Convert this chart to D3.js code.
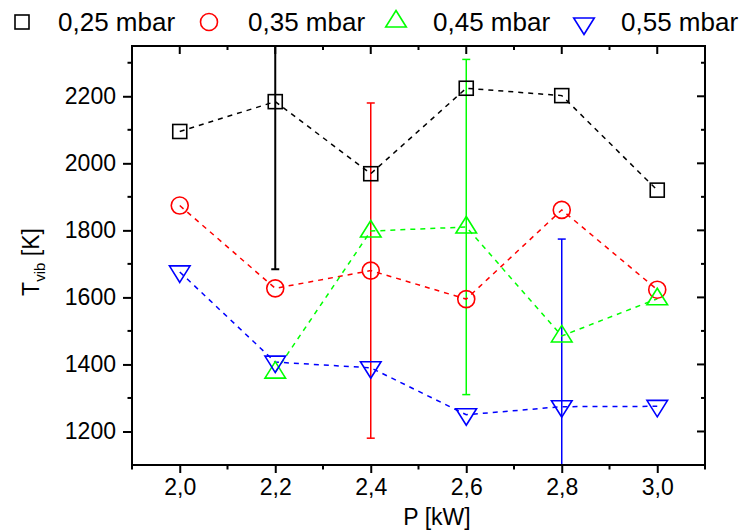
<!DOCTYPE html>
<html><head><meta charset="utf-8">
<script src="https://cdn.jsdelivr.net/npm/d3@7"></script>
<style>
body{margin:0;background:#fff;}
text{font-family:"Liberation Sans",Arial,Helvetica,sans-serif;fill:#000;}
</style></head>
<body><svg id="c" width="744" height="532"></svg>
<script>
const pressures = ["0,25 mbar","0,35 mbar","0,45 mbar","0,55 mbar"];
const power = [2.0, 2.2, 2.4, 2.6, 2.8, 3.0];
const t025 = [2095, 2184, 1969, 2224, 2202, 1920];
const t035 = [1874, 1627, 1680, 1595, 1861, 1623];
const t045 = [null, 1377, 1798, 1810, 1485, 1596];
const t055 = [1676, 1407, 1390, 1250, 1274, 1275];
const e025 = [0, 500, 0, 0, 0, 0];
const e035 = [0, 0, 500, 0, 0, 0];
const e045 = [0, 0, 0, 500, 0, 0];
const e055 = [0, 0, 0, 0, 500, 0];
const xTicks = [2.0, 2.2, 2.4, 2.6, 2.8, 3.0];
const xMinor = [1.9, 2.1, 2.3, 2.5, 2.7, 2.9, 3.1];
const yTicks = [1200, 1400, 1600, 1800, 2000, 2200];
const yMinor = [1300, 1500, 1700, 1900, 2100, 2300];

const colors = ["#000000", "#ff0000", "#00ff00", "#0000ff"];
const shapes = ["square", "circle", "up", "down"];
const series = [t025, t035, t045, t055].map((v, i) => ({
  name: pressures[i], color: colors[i], shape: shapes[i],
  err: [e025, e035, e045, e055][i],
  pts: power.map((x, j) => ({x, y: v[j], e: [e025, e035, e045, e055][i][j]})).filter(d => d.y != null)
}));

const svg = d3.select("#c");
const L = 132, R = 705, T = 46, B = 465;
const x = d3.scaleLinear().domain([1.9, 3.1]).range([L, R]);
const y = d3.scaleLinear().domain([1100, 2350]).range([B, T]);
const fmt = v => d3.format(".1f")(v).replace(".", ",");

svg.append("defs").append("clipPath").attr("id", "clip")
  .append("rect").attr("x", L).attr("y", T).attr("width", R - L).attr("height", B - T);

function marker(g, shape, color) {
  const sw = 1.6;
  if (shape === "square") g.append("rect").attr("x", -7).attr("y", -7).attr("width", 14).attr("height", 14);
  else if (shape === "circle") g.append("circle").attr("r", 8.5);
  else if (shape === "up") g.append("path").attr("d", "M0,-10.5L10.3,6L-10.3,6Z");
  else g.append("path").attr("d", "M0,10.5L10.3,-6L-10.3,-6Z");
  g.selectAll("*").attr("fill", "none").attr("stroke", color).attr("stroke-width", sw);
}

const plot = svg.append("g").attr("clip-path", "url(#clip)");
// error bars
series.forEach(s => {
  s.pts.filter(d => d.e > 0).forEach(d => {
    const g = plot.append("g").attr("stroke", s.color).attr("stroke-width", s.color === "#000000" ? 2 : 1.5);
    g.append("line").attr("x1", x(d.x)).attr("x2", x(d.x)).attr("y1", y(d.y - d.e)).attr("y2", y(d.y + d.e));
    [d.y - d.e, d.y + d.e].forEach(v => g.append("line")
      .attr("x1", x(d.x) - 4).attr("x2", x(d.x) + 4).attr("y1", y(v)).attr("y2", y(v)));
  });
});
// lines
const line = d3.line().x(d => x(d.x)).y(d => y(d.y));
series.forEach(s => {
  plot.append("path").attr("d", line(s.pts)).attr("fill", "none")
    .attr("stroke", s.color).attr("stroke-width", 1.5).attr("stroke-dasharray", "5,5");
});
// markers
series.forEach(s => {
  s.pts.forEach(d => {
    const g = svg.append("g").attr("transform", `translate(${x(d.x)},${y(d.y)})`);
    marker(g, s.shape, s.color);
  });
});

// axes
const ax = svg.append("g").attr("stroke", "#000").attr("stroke-width", 2);
ax.append("rect").attr("x", L).attr("y", T).attr("width", R - L).attr("height", B - T).attr("fill", "none");
const bottom = d3.axisBottom(x).tickValues(xTicks).tickFormat(fmt).tickSize(8).tickPadding(6);
const gb = svg.append("g").attr("transform", `translate(0,${B})`).call(bottom);
const left = d3.axisLeft(y).tickValues(yTicks).tickFormat(d3.format("d")).tickSize(9).tickPadding(7);
const gl = svg.append("g").attr("transform", `translate(${L},0)`).call(left);
[gb, gl].forEach(g => {
  g.select(".domain").remove();
  g.selectAll(".tick line").attr("stroke", "#000").attr("stroke-width", 2);
  g.selectAll(".tick text").attr("font-size", 23).attr("font-family", "Liberation Sans, Arial, sans-serif").attr("fill", "#000");
});
// minor ticks bottom/left outward, top/right inward
xMinor.forEach(v => {
  ax.append("line").attr("x1", x(v)).attr("x2", x(v)).attr("y1", B).attr("y2", B + 4.5);
  ax.append("line").attr("x1", x(v)).attr("x2", x(v)).attr("y1", T).attr("y2", T + 4);
});
xTicks.forEach(v => ax.append("line").attr("x1", x(v)).attr("x2", x(v)).attr("y1", T).attr("y2", T + 8));
yMinor.forEach(v => {
  ax.append("line").attr("x1", L).attr("x2", L - 4.5).attr("y1", y(v)).attr("y2", y(v));
  ax.append("line").attr("x1", R).attr("x2", R - 4).attr("y1", y(v)).attr("y2", y(v));
});
yTicks.forEach(v => ax.append("line").attr("x1", R).attr("x2", R - 8).attr("y1", y(v)).attr("y2", y(v)));

// axis titles
svg.append("text").attr("x", 437).attr("y", 525).attr("text-anchor", "middle").attr("font-size", 23).text("P [kW]");
const yl = svg.append("text").attr("transform", "translate(39,262) rotate(-90)").attr("text-anchor", "middle").attr("font-size", 23);
yl.append("tspan").text("T");
yl.append("tspan").attr("font-size", 15).attr("dy", 6).text("vib");
yl.append("tspan").attr("dy", -6).text(" [K]");

// legend
const legX = [22, 209, 396, 584];
const legTX = [58, 248, 433, 621];
series.forEach((s, i) => {
  const g = svg.append("g").attr("transform", `translate(${legX[i]},${s.shape === "up" ? 21 : (s.shape === "down" ? 24 : 22)})`);
  marker(g, s.shape, s.color);
  svg.append("text").attr("x", legTX[i]).attr("y", 31).attr("font-size", 26).text(s.name);
});
</script></body></html>
